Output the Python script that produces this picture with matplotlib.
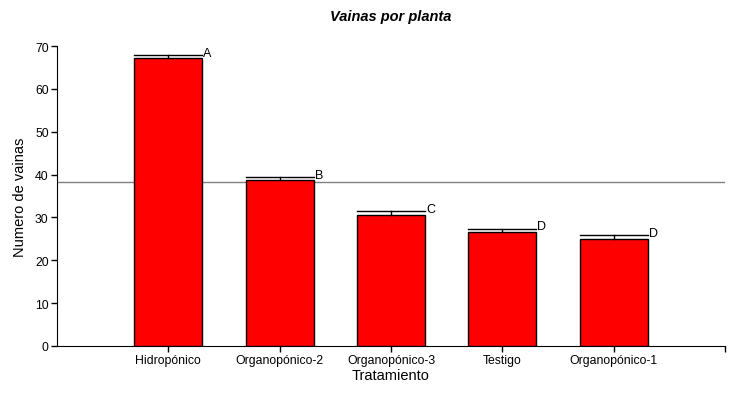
import numpy as np
import matplotlib
matplotlib.use("Agg")
import matplotlib.pyplot as plt

plt.rcParams['font.family'] = ['Liberation Sans', 'DejaVu Sans']

# datos
tratamientos = ["Hidropónico", "Organopónico-2", "Organopónico-3", "Testigo", "Organopónico-1"]
vainas = [67.2, 38.7, 30.6, 26.6, 25.0]
error = [0.7, 0.7, 0.9, 0.8, 0.9]
letras = ["A", "B", "C", "D", "D"]
media_general = 38.3

x = np.arange(1, len(tratamientos) + 1)
ancho = 0.61

fig = plt.figure(figsize=(7.37, 4.02), dpi=100)
ax = fig.add_axes([57/737, 55/402, 668/737, 300/402])

ax.bar(x, vainas, width=ancho, color="#ff0000", edgecolor="black", linewidth=1.0, zorder=3)

# barras de error (solo hacia arriba, tapa del ancho de la barra)
for xi, v, e, l in zip(x, vainas, error, letras):
    ax.plot([xi, xi], [v, v + e], color="black", linewidth=1.0, zorder=4)
    ax.plot([xi - ancho/2, xi + ancho/2], [v + e, v + e], color="black", linewidth=1.0, zorder=4)
    ax.text(xi + ancho/2 + 0.01, v + e - 0.9, l, fontsize=9, ha="left", va="bottom")

ax.axhline(media_general, color="#808080", linewidth=1.0, zorder=2)

ax.set_xlim(0, 6)
ax.set_ylim(0, 70)
ax.set_yticks(np.arange(0, 71, 10))
ax.set_xticks(list(x) + [6])
ax.set_xticklabels(tratamientos + [""])

ax.spines['top'].set_visible(False)
ax.spines['right'].set_visible(False)
ax.tick_params(axis='both', direction='out', length=4, width=1, labelsize=8.8, colors="black", pad=2)
ax.tick_params(axis='x', pad=2)

ax.set_xlabel("Tratamiento", fontsize=10.5, labelpad=1)
ax.set_ylabel("Numero de vainas", fontsize=10.5, labelpad=6)
ax.set_title("Vainas por planta", fontsize=10.5, fontweight="bold", style="italic", pad=19)

fig.savefig("out.png", dpi=100)
